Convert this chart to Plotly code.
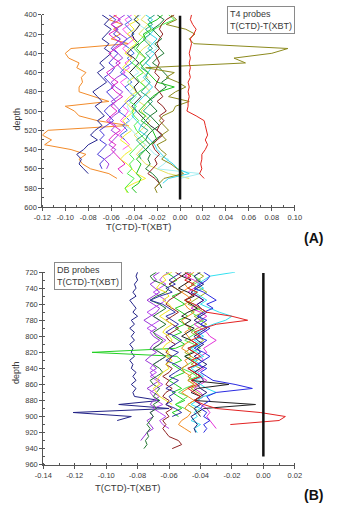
import plotly.graph_objects as go

# ---------------- data (values in units of 0.001 degC) ----------------
DEPTH_A = [400, 405, 410, 415, 420, 425, 430, 435, 440, 445, 450, 455, 460, 465, 470,
           475, 480, 485, 490, 495, 500, 505, 510, 515, 520, 525, 530, 535, 540, 545,
           550, 555, 560, 565, 570, 575, 580, 585, 590]
DEPTH_B = [720, 725, 730, 735, 740, 745, 750, 755, 760, 765, 770, 775, 780, 785, 790,
           795, 800, 805, 810, 815, 820, 825, 830, 835, 840, 845, 850, 855, 860, 865,
           870, 875, 880, 885, 890, 895, 900, 905, 910, 915, 920, 925, 930, 935, 940, 945]

# ---- T4 probes (panel A) ----
A_RED = [10, 9, 11, 14, 12, 9, 10, 9, 8, 9, 8, 9, 8, 9, 7, 8, 7, 8, 7, 7, 6, 14, 21, 22, 23,
         24, 22, 24, 22, 19, 19, 18, 19, 17, 21]
A_OLIVE = [-8, -3, -12, 5, 13, 8, 12, 94, 80, 47, 57, -30, -5, -12, -2, 5, -4, -10, 8, -4, -6,
           -15, -18, -14, -10, -16, -12, -20, -17, -12, -16, -8, -3, 3, -14, -18, -22, -20]
A_ORANGE = [-55, -62, -50, -58, -52, -60, -45, -95, -100, -97, -88, -90, -82, -86, -85, -88,
            -88, -75, -62, -100, -92, -88, -72, -45, -115, -120, -112, -118, -95, -82, -88, -85,
            -78, -62, -55]
A_NAVY = [-68, -62, -66, -60, -64, -68, -62, -66, -60, -65, -70, -66, -72, -68, -64, -70, -76,
          -72, -68, -74, -70, -66, -72, -68, -74, -78, -72, -80, -84, -90, -86, -88, -84, -80]
A_BLUEV = [-62, -56, -60, -54, -58, -52, -56, -60, -54, -58, -62, -57, -60, -66, -62, -58, -64,
           -60, -56, -62, -66, -62, -58, -64, -70, -66, -70, -64, -68, -72, -66, -70, -68]
A_PURPLE = [-48, -54, -50, -56, -52, -46, -52, -58, -54, -50, -56, -52, -48, -55, -60, -56, -50,
            -54, -60, -56, -52, -58, -62, -56, -60, -54, -58, -62, -56, -60, -66, -62, -64]
A_MAGENTA = [-58, -52, -60, -55, -62, -57, -50, -56, -62, -58, -52, -58, -64, -60, -54, -60, -56,
             -50, -56, -60, -55, -60, -64, -58, -52, -58, -62, -56, -60, -56, -52, -48, -54, -50]
A_PINK = [-42, -48, -44, -50, -46, -40, -45, -50, -46, -42, -48, -44, -50, -46, -52, -48, -44,
          -40, -46, -50, -45, -48, -52, -46, -50, -54, -48, -44, -50]
A_GREEN = [-15, -20, -28, -25, -32, -30, -35, -38, -34, -30, -35, -32, -28, -24, -20, -5, -18,
           -24, -28, -32, -36, -30, -34, -28, -24, -22, -20, -26, -30, -34, -38, -34, -36, -38,
           -34, -36, -42, -38]
A_LIME = [-10, -5, -15, -22, -30, -34, -38, -40, -36, -38, -42, -36, -32, -38, -35, -30, -36, -40,
          -44, -38, -42, -40, -36, -40, -38, -34, -30, -36, -40, -44, -40, -44, -42, -46, -40,
          -44, -48, -45]
A_CYAN = [-30, -24, -28, -22, -26, -20, -24, -28, -22, -26, -30, -25, -28, -32, -28, -24, -28,
          -32, -36, -40, -38, -42, -38, -34, -36, -30, -26, -22, -20, -16, -12, -6, -2, 8, -10, -15]
A_LCYAN = [-34, -40, -36, -30, -26, -30, -24, -20, -26, -30, -35, -40, -36, -42, -46, -40, -44,
           -38, -42, -46, -44, -40, -44, -48, -42, -38, -34, -30, -26, -22, -10, -14, -20, 18, 0]
A_YELLOW = [-40, -36, -44, -40, -46, -42, -38, -44, -48, -42, -46, -50, -44, -40, -46, -42, -38,
            -44, -48, -44, -40, -45, -50, -46, -42, -48, -52, -46, -42, -48, -52, -46, -42, -38,
            -30, -40, -48, -46]
A_KHAKI = [-30, -34, -28, -32, -36, -30, -26, -32, -36, -30, -34, -38, -32, -28, -34, -30, -26,
           -32, -36, -30, -34, -30, -26, -30, -34, -40, -36, -30, -34, -38, -34, -30, -20, -10, 8]
A_DKGREEN = [-20, -14, -18, -24, -20, -16, -22, -18, -14, -20, -24, -18, -14, -10, -16, -12, -18,
             -22, -28, -24, -20, -26, -22, -18, -24, -28, -30, -26, -30, -26, -28, -26, -30, -24,
             -20, -18, -16]
A_BROWN = [-5, -12, -16, -18, -15, -18, -20, -18, -22, -20, -18, -20, -22, -18, -20, -22, -18,
           -15, -20, -15, -12, -18, -14, -18, -20, -15, -20, -24, -22, -18, -22, -20, -24, -28,
           -22, -18, -22]
A_BLACK = [-36, -40, -35, -38, -42, -40, -36, -42, -46, -40, -36, -40, -44, -40, -36, -40, -38,
           -34, -38, -42, -38, -34, -30, -26, -20, -16, -22, -26, -30]
A_TEAL = [-22, -28, -24, -30, -26, -32, -28, -24, -30, -26, -30, -34, -28, -30, -26, -30, -34,
          -28, -24, -28, -32, -26, -30, -34, -28, -32, -38, -34, -30, -36, -34]
A_ROYAL = [-46, -42, -48, -44, -40, -46, -50, -44, -40, -46, -42, -48, -52, -46, -42, -48, -44,
           -40, -46, -50, -54, -48, -44, -50, -46, -52, -48]

# ---- DB probes (panel B) ----
B_NAVY = [-80, -81, -80, -82, -81, -83, -81, -85, -83, -81, -83, -80, -84, -82, -85, -82, -84,
          -82, -85, -83, -84, -82, -85, -83, -84, -81, -83, -81, -84, -81, -83, -82, -66, -92,
          -60, -121, -84, -93]
B_GREEN = [-62, -58, -55, -60, -56, -52, -58, -54, -50, -56, -52, -48, -54, -50, -56, -52, -58,
           -54, -50, -56, -109, -55, -52, -58, -54, -50, -56, -60, -56, -52, -58, -54, -50, -56,
           -52, -58, -54]
B_RED = [-50, -46, -50, -44, -48, -42, -46, -50, -44, -40, -36, -20, -10, -30, -38, -44, -40,
         -46, -42, -48, -44, -40, -46, -42, -48, -44, -40, -46, -42, -48, -44, -40, -44, -38,
         -30, -2, 14, 10, -21]
B_BLACK = [-48, -52, -46, -50, -54, -48, -44, -50, -46, -42, -48, -52, -46, -50, -44, -48, -52,
           -46, -42, -48, -44, -50, -46, -42, -48, -44, -40, -46, -22, -42, -46, -40, -44, -5,
           -38, -42, -40]
B_BLUE = [-38, -34, -36, -40, -44, -38, -34, -30, -36, -32, -38, -42, -36, -40, -34, -38, -42,
          -36, -40, -44, -38, -34, -38, -42, -36, -40, -36, -32, -18, -7, -30, -36, -34, -38,
          -40, -36, -38, -34, -38, -36, -38]
B_CYAN = [-18, -34, -38, -42, -38, -44, -40, -36, -40, -34, -28, -20, -24, -32, -38, -42, -38,
          -44, -40, -46, -42, -38, -44, -40, -46, -42, -38, -44, -40, -36, -30, -38, -42, -46,
          -40, -44, -42, -46, -40, -44, -42]
B_PURPLE = [-66, -70, -68, -72, -69, -66, -70, -74, -70, -66, -68, -72, -76, -72, -68, -72, -70,
            -66, -70, -72, -68, -72, -75, -71, -68, -72, -70, -66, -70, -74, -70, -66, -70, -72,
            -68, -72, -70, -74, -72, -70, -74, -76, -78]
B_VIOLET = [-60, -64, -66, -62, -66, -70, -66, -62, -66, -70, -74, -70, -66, -70, -74, -70, -66,
            -62, -66, -70, -66, -62, -66, -70, -72, -68, -72, -68, -64, -68, -72, -70, -68, -64,
            -70, -66, -62, -66, -64, -60]
B_DKGREEN = [-68, -72, -70, -64, -60, -62, -68, -72, -66, -62, -66, -70, -66, -62, -66, -70, -68,
             -64, -66, -70, -66, -62, -66, -70, -66, -64, -68, -72, -70, -66, -68, -70, -66, -70,
             -68, -72, -70, -72, -74, -72, -74, -73, -75, -74, -76]
B_BROWN = [-56, -52, -56, -60, -56, -52, -56, -60, -62, -58, -54, -58, -62, -58, -54, -58, -62,
           -60, -56, -60, -62, -58, -60, -62, -58, -60, -64, -60, -62, -58, -62, -64, -60, -62,
           -58, -62, -60, -64, -62, -64, -62, -60, -54, -52, -58]
B_ORANGE = [-44, -48, -46, -50, -48, -52, -48, -46, -50, -48, -44, -48, -52, -50, -46, -50, -48,
            -46, -50, -52, -48, -46, -50, -48, -52, -50, -46, -48, -44, -48, -52, -48, -44, -48,
            -50, -46, -48, -52, -54, -50, -46]
B_YELLOW = [-58, -64, -62, -66, -68, -62, -60, -64, -60, -58, -62, -66, -62, -58, -62, -64, -60,
            -58, -62, -64, -60, -62, -58, -62, -60, -64, -66, -68, -66, -70, -68, -66, -62, -58]
B_MAGENTA = [-46, -50, -44, -40, -44, -48, -42, -38, -42, -46, -40, -36, -40, -44, -40, -36, -34,
             -30, -34, -38, -36, -40, -38, -42, -38, -42, -40, -36, -40, -44, -40, -38, -42, -40,
             -36, -34, -36, -34, -32, -30]
B_OLIVE = [-42, -38, -42, -46, -40, -36, -40, -44, -48, -42, -38, -44, -40, -36, -42, -46, -42,
           -38, -42, -46, -50, -46, -42, -46, -40, -44, -48, -44, -40, -46, -42, -38, -44, -48,
           -44, -40]
B_DKBLUE = [-52, -56, -60, -56, -62, -58, -66, -72, -64, -60, -56, -62, -58, -54, -58, -62, -56,
            -52, -56, -60, -54, -58, -62, -56, -52, -56, -60, -54, -58, -62, -56, -60, -58, -62,
            -56, -52, -58]
B_LIME = [-48, -44, -40, -44, -48, -42, -46, -50, -44, -40, -46, -42, -38, -44, -48, -42, -46,
          -50, -44, -40, -46, -50, -44, -48, -52, -46, -42, -48, -44, -50, -54, -48, -52, -56,
          -50, -46]
B_NAVY2 = [-40, -44, -42, -38, -42, -46, -42, -38, -42, -40, -36, -40, -44, -40, -36, -40, -44,
           -42, -38, -42, -40, -44, -40, -36, -40, -44, -40, -38, -42, -40, -36, -40, -44, -40,
           -44, -42, -46, -44, -42, -44, -43]

PROFILES_A = [
    ("A_ORANGE", A_ORANGE, "#f28b2a"), ("A_NAVY", A_NAVY, "#26268f"),
    ("A_BLUEV", A_BLUEV, "#4a3ad8"), ("A_PURPLE", A_PURPLE, "#a43ee0"),
    ("A_MAGENTA", A_MAGENTA, "#e01fc2"), ("A_PINK", A_PINK, "#ff55ee"),
    ("A_ROYAL", A_ROYAL, "#3d6fe0"), ("A_YELLOW", A_YELLOW, "#f2ee2a"),
    ("A_KHAKI", A_KHAKI, "#e4e060"), ("A_LCYAN", A_LCYAN, "#a6eef2"),
    ("A_CYAN", A_CYAN, "#35d6ea"), ("A_BLACK", A_BLACK, "#2a2a2a"),
    ("A_LIME", A_LIME, "#4cef4c"), ("A_TEAL", A_TEAL, "#2aa57f"),
    ("A_GREEN", A_GREEN, "#1fc21f"), ("A_DKGREEN", A_DKGREEN, "#1f7a33"),
    ("A_BROWN", A_BROWN, "#8d1f1f"), ("A_OLIVE", A_OLIVE, "#8c8a1e"),
    ("A_RED", A_RED, "#e3261f"),
]
PROFILES_B = [
    ("B_NAVY", B_NAVY, "#222286"), ("B_GREEN", B_GREEN, "#22d022"),
    ("B_PURPLE", B_PURPLE, "#9a34d6"), ("B_VIOLET", B_VIOLET, "#b848f0"),
    ("B_DKGREEN", B_DKGREEN, "#237530"), ("B_BROWN", B_BROWN, "#8e2222"),
    ("B_YELLOW", B_YELLOW, "#f0e424"), ("B_DKBLUE", B_DKBLUE, "#3232a8"),
    ("B_OLIVE", B_OLIVE, "#9fae22"), ("B_LIME", B_LIME, "#52e852"),
    ("B_ORANGE", B_ORANGE, "#f08a20"), ("B_MAGENTA", B_MAGENTA, "#e232d8"),
    ("B_CYAN", B_CYAN, "#33e0f0"), ("B_NAVY2", B_NAVY2, "#1c1c70"),
    ("B_BLACK", B_BLACK, "#222222"), ("B_BLUE", B_BLUE, "#2a2ae0"),
    ("B_RED", B_RED, "#e22222"),
]

ZERO_X = [0.0, 0.0]
ZERO_DEPTH_A = [401, 592]
ZERO_DEPTH_B = [721, 950]

X_TICKS_A = [-0.12, -0.10, -0.08, -0.06, -0.04, -0.02, 0.00, 0.02, 0.04, 0.06, 0.08, 0.10]
X_TICKS_B = [-0.14, -0.12, -0.10, -0.08, -0.06, -0.04, -0.02, 0.00, 0.02]
Y_TICKS_A = [400, 420, 440, 460, 480, 500, 520, 540, 560, 580, 600]
Y_TICKS_B = [720, 740, 760, 780, 800, 820, 840, 860, 880, 900, 920, 940, 960]

W, H = 338, 505
FONT = "Liberation Sans, Arial, sans-serif"
AX = "#555555"
TXT = "#3a3a3a"

fig = go.Figure()
for name, vals, col in PROFILES_A:
    fig.add_trace(go.Scatter(x=[v / 1000 for v in vals], y=DEPTH_A[:len(vals)], mode="lines",
                             line=dict(color=col, width=1), xaxis="x", yaxis="y",
                             name=name, showlegend=False, hoverinfo="skip"))
fig.add_trace(go.Scatter(x=ZERO_X, y=ZERO_DEPTH_A, mode="lines",
                         line=dict(color="#111111", width=2.5), xaxis="x", yaxis="y",
                         showlegend=False, hoverinfo="skip"))
for name, vals, col in PROFILES_B:
    fig.add_trace(go.Scatter(x=[v / 1000 for v in vals], y=DEPTH_B[:len(vals)], mode="lines",
                             line=dict(color=col, width=1), xaxis="x2", yaxis="y2",
                             name=name, showlegend=False, hoverinfo="skip"))
fig.add_trace(go.Scatter(x=ZERO_X, y=ZERO_DEPTH_B, mode="lines",
                         line=dict(color="#111111", width=2.5), xaxis="x2", yaxis="y2",
                         showlegend=False, hoverinfo="skip"))


def xax(domain, rng, ticks, anchor):
    return dict(domain=domain, range=rng, anchor=anchor, tickvals=ticks,
                ticktext=["%.2f" % t for t in ticks], showgrid=False, zeroline=False,
                showline=True, linecolor=AX, linewidth=1, ticks="outside", ticklen=3,
                tickcolor=AX, tickwidth=1,
                minor=dict(dtick=0.01, tick0=0, ticks="inside", ticklen=2, tickcolor=AX),
                tickfont=dict(family=FONT, size=7.5, color=TXT))


def yax(domain, rng, ticks, anchor):
    return dict(domain=domain, range=rng, anchor=anchor, tickvals=ticks, showgrid=False,
                zeroline=False, showline=True, linecolor=AX, linewidth=1, ticks="outside",
                ticklen=3, tickcolor=AX, tickwidth=1,
                minor=dict(dtick=10, tick0=0, ticks="inside", ticklen=2, tickcolor=AX),
                tickfont=dict(family=FONT, size=7.5, color=TXT))


fig.update_layout(
    width=W, height=H, margin=dict(l=0, r=0, t=0, b=0),
    paper_bgcolor="white", plot_bgcolor="white",
    xaxis=xax([35 / W, 300 / W], [-0.12, 0.10], X_TICKS_A, "y"),
    yaxis=yax([1 - 207 / H, 1 - 11 / H], [600, 400], Y_TICKS_A, "x"),
    xaxis2=xax([36 / W, 300 / W], [-0.14, 0.02], X_TICKS_B, "y2"),
    yaxis2=yax([1 - 469 / H, 1 - 273 / H], [960, 720], Y_TICKS_B, "x2"),
)

ann = []
ann.append(dict(text="T4 probes<br>T(CTD)-T(XBT)", x=229 / W, y=1 - 2 / H, xref="paper",
                yref="paper", xanchor="left", yanchor="top", align="left", showarrow=False,
                bordercolor="#8a8a8a", borderwidth=1, borderpad=2, bgcolor="white",
                font=dict(family=FONT, size=9, color=TXT)))
ann.append(dict(text="DB probes<br>T(CTD)-T(XBT)", x=47 / W, y=1 - 263 / H, xref="paper",
                yref="paper", xanchor="left", yanchor="top", align="left", showarrow=False,
                bordercolor="#8a8a8a", borderwidth=1, borderpad=2, bgcolor="white",
                font=dict(family=FONT, size=9, color=TXT)))
for txt, x, y in [("T(CTD)-T(XBT)", 136, 227), ("T(CTD)-T(XBT)", 124, 492)]:
    ann.append(dict(text=txt, x=x / W, y=1 - y / H, xref="paper", yref="paper",
                    xanchor="center", yanchor="middle", showarrow=False,
                    font=dict(family=FONT, size=9.5, color=TXT)))
for y in [117, 375]:
    ann.append(dict(text="depth", x=8 / W, y=1 - y / H, xref="paper", yref="paper",
                    xanchor="center", yanchor="middle", showarrow=False, textangle=-90,
                    font=dict(family=FONT, size=9, color=TXT)))
for txt, x, y in [("(A)", 320, 238), ("(B)", 320, 500)]:
    ann.append(dict(text="<b>%s</b>" % txt, x=x / W, y=1 - y / H, xref="paper", yref="paper",
                    xanchor="center", yanchor="middle", showarrow=False,
                    font=dict(family=FONT, size=14, color="#111111")))
fig.update_layout(annotations=ann)

fig.write_html("out.html")
